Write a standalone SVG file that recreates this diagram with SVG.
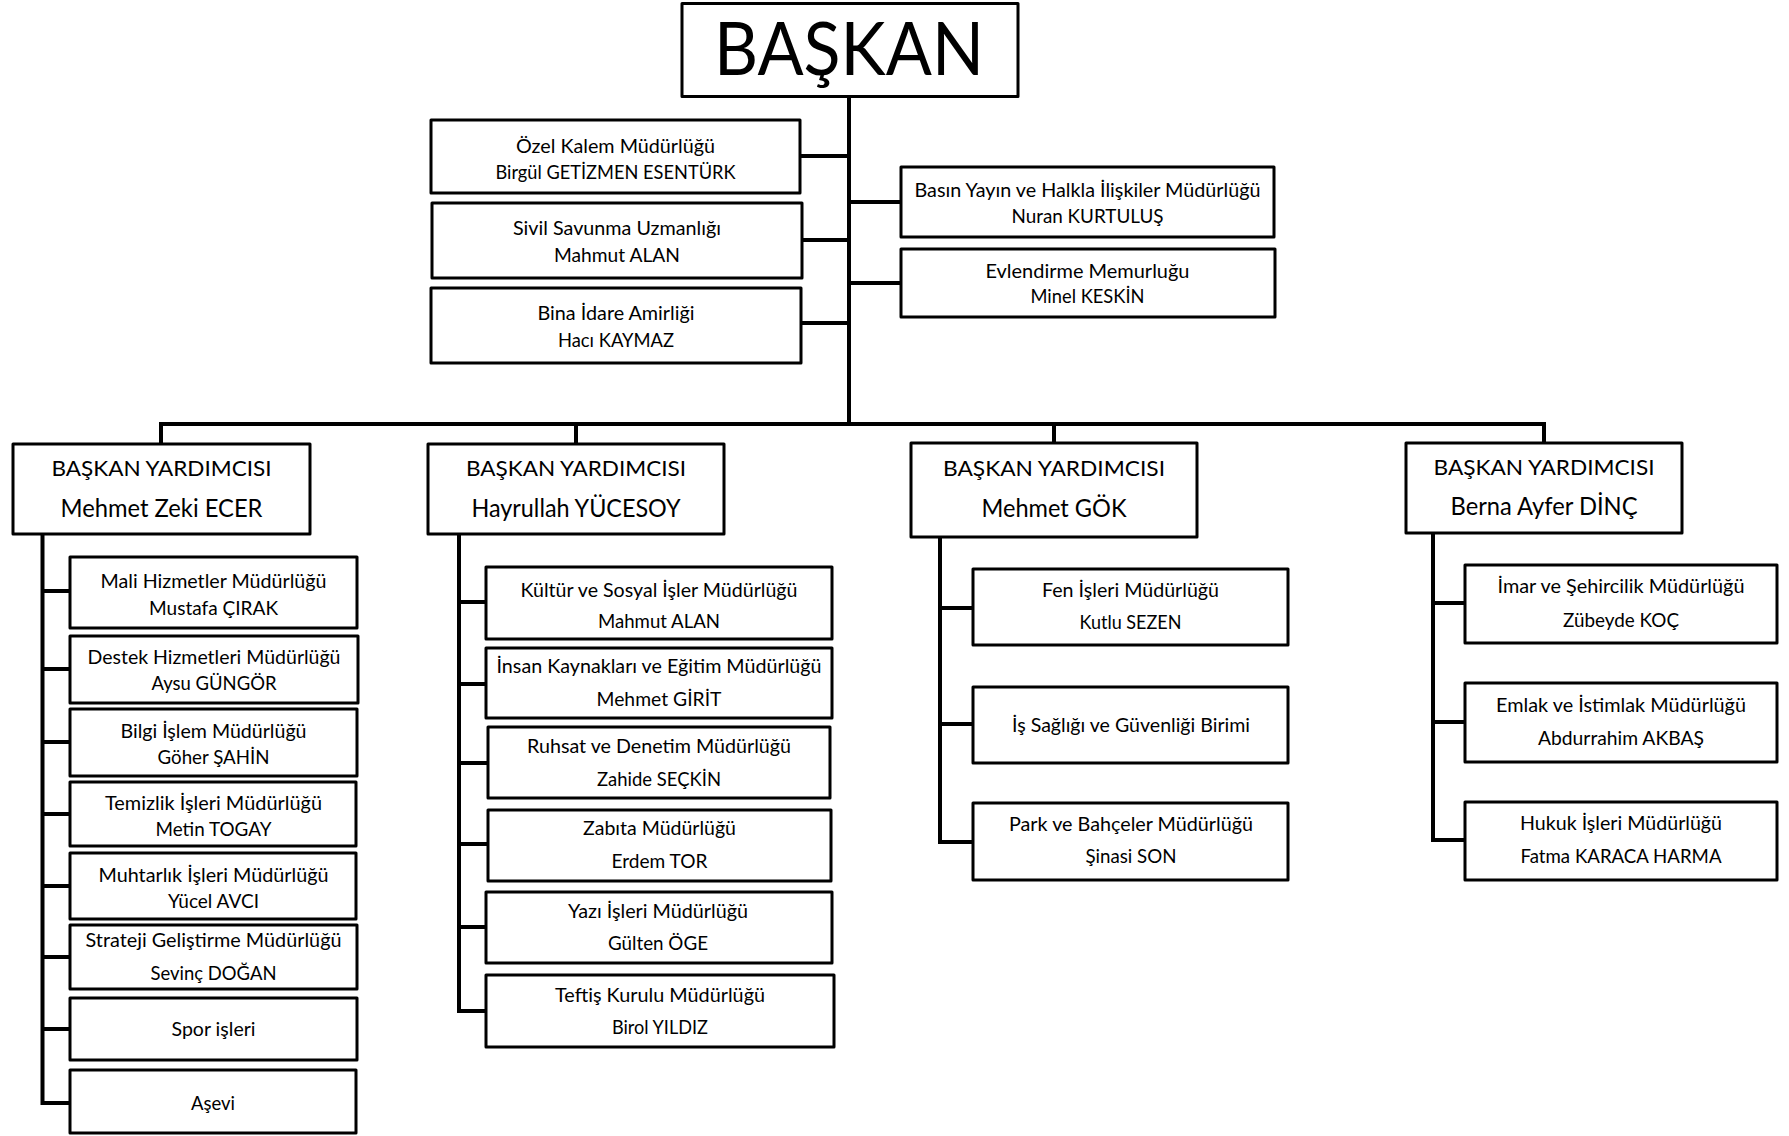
<svg xmlns="http://www.w3.org/2000/svg" width="1789" height="1136" viewBox="0 0 1789 1136">
<style>
.box{fill:#fff;stroke:#000;stroke-width:3;stroke-linejoin:round}
.t{font-family:Lato,"Liberation Sans",sans-serif;font-size:20px;text-anchor:middle;fill:#000}
.v1{font-size:21px}
.v2{font-size:25px}
.big{font-size:74px}
.c{stroke:#000;stroke-width:4;fill:none;stroke-linecap:square}
</style>
<rect width="1789" height="1136" fill="#fff"/>
<g id="connectors">
<path class="c" d="M849 97V424M800 156H849M802 240H849M801 323H849M849 202H901M849 283H901"/>
<path class="c" d="M161 424H1544M161 424V444M576 424V444M1054 424V443M1544 424V443"/>
<path class="c" d="M42.5 534V1103M42.5 591H70M42.5 669H70M42.5 742H70M42.5 814H70M42.5 886H70M42.5 957H70M42.5 1029H70M42.5 1103H70"/>
<path class="c" d="M459 534V1011M459 602H486M459 684H486M459 763H488M459 844H488M459 927H486M459 1011H486"/>
<path class="c" d="M940 537V842M940 608H973M940 724H973M940 842H973"/>
<path class="c" d="M1433 533V840M1433 603H1465M1433 722H1465M1433 840H1465"/>
</g>
<g id="baskan"><rect class="box" x="682" y="3.5" width="336" height="93"/><text class="t big" x="849" y="75" textLength="270" lengthAdjust="spacingAndGlyphs">BAŞKAN</text></g>
<g id="ozel-kalem"><rect class="box" x="431" y="120" width="369" height="73"/><text class="t" x="615.5" y="153" textLength="199" lengthAdjust="spacingAndGlyphs">Özel Kalem Müdürlüğü</text><text class="t" x="615.5" y="179" textLength="240" lengthAdjust="spacingAndGlyphs">Birgül GETİZMEN ESENTÜRK</text></g>
<g id="sivil-savunma"><rect class="box" x="432" y="203" width="370" height="75"/><text class="t" x="617" y="235" textLength="208" lengthAdjust="spacingAndGlyphs">Sivil Savunma Uzmanlığı</text><text class="t" x="617" y="262" textLength="126" lengthAdjust="spacingAndGlyphs">Mahmut ALAN</text></g>
<g id="bina-idare"><rect class="box" x="431" y="288" width="370" height="75"/><text class="t" x="616" y="320" textLength="157" lengthAdjust="spacingAndGlyphs">Bina İdare Amirliği</text><text class="t" x="616" y="347" textLength="116" lengthAdjust="spacingAndGlyphs">Hacı KAYMAZ</text></g>
<g id="basin-yayin"><rect class="box" x="901" y="167" width="373" height="70"/><text class="t" x="1087.5" y="197" textLength="346" lengthAdjust="spacingAndGlyphs">Basın Yayın ve Halkla İlişkiler Müdürlüğü</text><text class="t" x="1087.5" y="223" textLength="152" lengthAdjust="spacingAndGlyphs">Nuran KURTULUŞ</text></g>
<g id="evlendirme"><rect class="box" x="901" y="249" width="374" height="68"/><text class="t" x="1087.5" y="278" textLength="204" lengthAdjust="spacingAndGlyphs">Evlendirme Memurluğu</text><text class="t" x="1087.5" y="303" textLength="114" lengthAdjust="spacingAndGlyphs">Minel KESKİN</text></g>
<g id="vp1"><rect class="box" x="13" y="444" width="297" height="90"/><text class="t v1" x="161.5" y="476" textLength="220" lengthAdjust="spacingAndGlyphs">BAŞKAN YARDIMCISI</text><text class="t v2" x="161.5" y="517" textLength="202" lengthAdjust="spacingAndGlyphs">Mehmet Zeki ECER</text></g>
<g id="vp2"><rect class="box" x="428" y="444" width="296" height="90"/><text class="t v1" x="576" y="476" textLength="220" lengthAdjust="spacingAndGlyphs">BAŞKAN YARDIMCISI</text><text class="t v2" x="576" y="517" textLength="209" lengthAdjust="spacingAndGlyphs">Hayrullah YÜCESOY</text></g>
<g id="vp3"><rect class="box" x="911" y="443" width="286" height="94"/><text class="t v1" x="1054" y="476" textLength="222" lengthAdjust="spacingAndGlyphs">BAŞKAN YARDIMCISI</text><text class="t v2" x="1054" y="517" textLength="145" lengthAdjust="spacingAndGlyphs">Mehmet GÖK</text></g>
<g id="vp4"><rect class="box" x="1406" y="443" width="276" height="90"/><text class="t v1" x="1544" y="475" textLength="221" lengthAdjust="spacingAndGlyphs">BAŞKAN YARDIMCISI</text><text class="t v2" x="1544" y="515" textLength="187" lengthAdjust="spacingAndGlyphs">Berna Ayfer DİNÇ</text></g>
<g id="mali"><rect class="box" x="70" y="557" width="287" height="71"/><text class="t" x="213.5" y="588" textLength="226" lengthAdjust="spacingAndGlyphs">Mali Hizmetler Müdürlüğü</text><text class="t" x="213.5" y="615" textLength="129" lengthAdjust="spacingAndGlyphs">Mustafa ÇIRAK</text></g>
<g id="destek"><rect class="box" x="70" y="636" width="288" height="67"/><text class="t" x="214" y="664" textLength="253" lengthAdjust="spacingAndGlyphs">Destek Hizmetleri Müdürlüğü</text><text class="t" x="214" y="690" textLength="125" lengthAdjust="spacingAndGlyphs">Aysu GÜNGÖR</text></g>
<g id="bilgi-islem"><rect class="box" x="70" y="709" width="287" height="67"/><text class="t" x="213.5" y="738" textLength="186" lengthAdjust="spacingAndGlyphs">Bilgi İşlem Müdürlüğü</text><text class="t" x="213.5" y="764" textLength="112" lengthAdjust="spacingAndGlyphs">Göher ŞAHİN</text></g>
<g id="temizlik"><rect class="box" x="70" y="782" width="286" height="64"/><text class="t" x="213.5" y="810" textLength="217" lengthAdjust="spacingAndGlyphs">Temizlik İşleri Müdürlüğü</text><text class="t" x="213.5" y="836" textLength="116" lengthAdjust="spacingAndGlyphs">Metin TOGAY</text></g>
<g id="muhtarlik"><rect class="box" x="70" y="853" width="286" height="66"/><text class="t" x="213.5" y="882" textLength="230" lengthAdjust="spacingAndGlyphs">Muhtarlık İşleri Müdürlüğü</text><text class="t" x="213.5" y="908" textLength="91" lengthAdjust="spacingAndGlyphs">Yücel AVCI</text></g>
<g id="strateji"><rect class="box" x="70" y="925" width="287" height="64"/><text class="t" x="213.5" y="947" textLength="256" lengthAdjust="spacingAndGlyphs">Strateji Geliştirme Müdürlüğü</text><text class="t" x="213.5" y="980" textLength="126" lengthAdjust="spacingAndGlyphs">Sevinç DOĞAN</text></g>
<g id="spor"><rect class="box" x="70" y="998" width="287" height="62"/><text class="t" x="213.5" y="1036" textLength="84" lengthAdjust="spacingAndGlyphs">Spor işleri</text></g>
<g id="asevi"><rect class="box" x="70" y="1070" width="286" height="63"/><text class="t" x="213" y="1110" textLength="44" lengthAdjust="spacingAndGlyphs">Aşevi</text></g>
<g id="kultur"><rect class="box" x="486" y="567" width="346" height="72"/><text class="t" x="659" y="597" textLength="277" lengthAdjust="spacingAndGlyphs">Kültür ve Sosyal İşler Müdürlüğü</text><text class="t" x="659" y="628" textLength="122" lengthAdjust="spacingAndGlyphs">Mahmut ALAN</text></g>
<g id="insan-kaynaklari"><rect class="box" x="486" y="648" width="346" height="70"/><text class="t" x="659" y="673" textLength="325" lengthAdjust="spacingAndGlyphs">İnsan Kaynakları ve Eğitim Müdürlüğü</text><text class="t" x="659" y="706" textLength="125" lengthAdjust="spacingAndGlyphs">Mehmet GİRİT</text></g>
<g id="ruhsat"><rect class="box" x="488" y="727" width="342" height="71"/><text class="t" x="659" y="753" textLength="264" lengthAdjust="spacingAndGlyphs">Ruhsat ve Denetim Müdürlüğü</text><text class="t" x="659" y="786" textLength="124" lengthAdjust="spacingAndGlyphs">Zahide SEÇKİN</text></g>
<g id="zabita"><rect class="box" x="488" y="810" width="343" height="71"/><text class="t" x="659.5" y="835" textLength="153" lengthAdjust="spacingAndGlyphs">Zabıta Müdürlüğü</text><text class="t" x="659.5" y="868" textLength="96" lengthAdjust="spacingAndGlyphs">Erdem TOR</text></g>
<g id="yazi-isleri"><rect class="box" x="486" y="892" width="346" height="71"/><text class="t" x="658" y="918" textLength="180" lengthAdjust="spacingAndGlyphs">Yazı İşleri Müdürlüğü</text><text class="t" x="658" y="950" textLength="100" lengthAdjust="spacingAndGlyphs">Gülten ÖGE</text></g>
<g id="teftis"><rect class="box" x="486" y="975" width="348" height="72"/><text class="t" x="660" y="1002" textLength="210" lengthAdjust="spacingAndGlyphs">Teftiş Kurulu Müdürlüğü</text><text class="t" x="660" y="1034" textLength="96" lengthAdjust="spacingAndGlyphs">Birol YILDIZ</text></g>
<g id="fen-isleri"><rect class="box" x="973" y="569" width="315" height="76"/><text class="t" x="1130.5" y="597" textLength="177" lengthAdjust="spacingAndGlyphs">Fen İşleri Müdürlüğü</text><text class="t" x="1130.5" y="629" textLength="102" lengthAdjust="spacingAndGlyphs">Kutlu SEZEN</text></g>
<g id="is-sagligi"><rect class="box" x="973" y="687" width="315" height="76"/><text class="t" x="1131" y="732" textLength="238" lengthAdjust="spacingAndGlyphs">İş Sağlığı ve Güvenliği Birimi</text></g>
<g id="park-bahceler"><rect class="box" x="973" y="803" width="315" height="77"/><text class="t" x="1131" y="831" textLength="244" lengthAdjust="spacingAndGlyphs">Park ve Bahçeler Müdürlüğü</text><text class="t" x="1131" y="863" textLength="91" lengthAdjust="spacingAndGlyphs">Şinasi SON</text></g>
<g id="imar"><rect class="box" x="1465" y="565" width="312" height="78"/><text class="t" x="1621" y="593" textLength="247" lengthAdjust="spacingAndGlyphs">İmar ve Şehircilik Müdürlüğü</text><text class="t" x="1621" y="627" textLength="116" lengthAdjust="spacingAndGlyphs">Zübeyde KOÇ</text></g>
<g id="emlak"><rect class="box" x="1465" y="683" width="312" height="79"/><text class="t" x="1621" y="712" textLength="250" lengthAdjust="spacingAndGlyphs">Emlak ve İstimlak Müdürlüğü</text><text class="t" x="1621" y="745" textLength="166" lengthAdjust="spacingAndGlyphs">Abdurrahim AKBAŞ</text></g>
<g id="hukuk"><rect class="box" x="1465" y="802" width="312" height="78"/><text class="t" x="1621" y="830" textLength="202" lengthAdjust="spacingAndGlyphs">Hukuk İşleri Müdürlüğü</text><text class="t" x="1621" y="863" textLength="201" lengthAdjust="spacingAndGlyphs">Fatma KARACA HARMA</text></g>
</svg>
